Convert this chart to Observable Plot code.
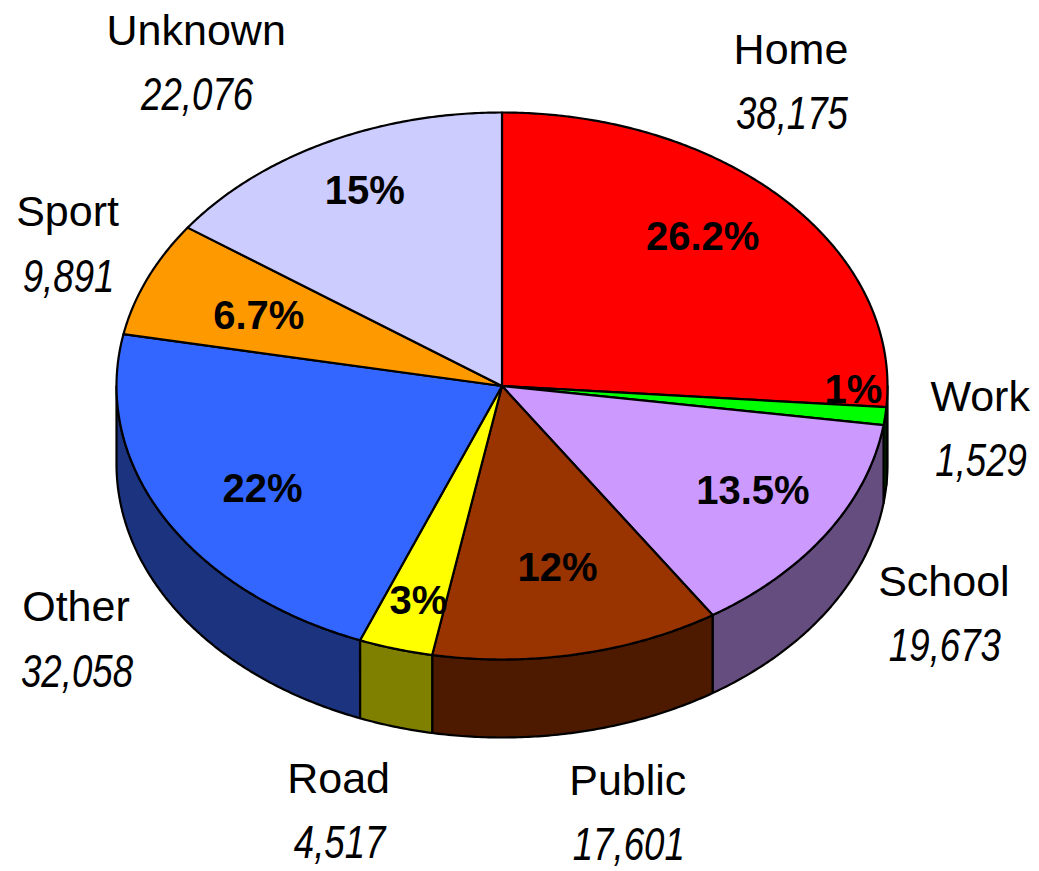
<!DOCTYPE html>
<html><head><meta charset="utf-8">
<script src="https://cdn.jsdelivr.net/npm/d3@7"></script>
<script src="https://cdn.jsdelivr.net/npm/@observablehq/plot@0.6"></script>
<style>body{margin:0;background:#fff} #chart svg{display:block}</style>
</head><body><div id="chart"></div>
<script>
// ---- data ----
const categories = ["Home", "Work", "School", "Public", "Road", "Other", "Sport", "Unknown"];
const counts = [38175, 1529, 19673, 17601, 4517, 32058, 9891, 22076];
const percentLabels = ["26.2%", "1%", "13.5%", "12%", "3%", "22%", "6.7%", "15%"];

// ---- styles ----
const topColors = ["#FF0000", "#00FF00", "#CC99FF", "#993300", "#FFFF00", "#3366FF", "#FF9900", "#CCCCFF"];
const sideColors = ["#800000", "#008000", "#664D80", "#4D1A00", "#808000", "#1C3480", "#804D00", "#666680"];

// ---- layout ----
const W = 1039, H = 871;
const xRange = [116, 887], yRange = [659, 112];       // unit ellipse -> pixels
const pxX = (xRange[1] - xRange[0]) / 2, pxY = (yRange[0] - yRange[1]) / 2;
const depth = 78 / pxY;                                // pie thickness in unit y
const nameOffset = [[6, -150], [95, -97], [117, -29], [50, 49], [-57, 52], [-88, 12], [-80, -66], [-129, -112]];
const valueDrop = 64, valueShift = 1, valueCondense = 0.78;
const pctRadius = [0.72, 0.92, 0.72, 0.72, 0.72, 0.72, 0.72, 0.72];
const pctNudge = [[-3, -15], [-1, -24], [17, -1], [1, -11], [-7, 26], [4, 9], [12, 8], [-10, -20]];

const total = d3.sum(counts);
const fmt = d3.format(",");
const TAU = 2 * Math.PI;
let cum = 0;
const slices = categories.map((c, i) => {
  const a0 = cum / total * TAU; cum += counts[i]; const a1 = cum / total * TAU;
  return {i, name: c, a0, a1, mid: (a0 + a1) / 2};
});

function arc(a, b) {
  const n = Math.max(2, Math.ceil((b - a) / (Math.PI / 360)));
  return d3.range(n + 1).map(k => a + (b - a) * k / n);
}

// top faces
const topRows = [];
slices.forEach(s => {
  const pts = [[0, 0], ...arc(s.a0, s.a1).map(t => [Math.sin(t), Math.cos(t)]), [0, 0]];
  pts.forEach(([x, y]) => topRows.push({id: "t" + s.i, x, y, fill: topColors[s.i]}));
});
// side walls (front half only: angles between 90° and 270°)
const sideRows = [];
slices.forEach(s => {
  const lo = Math.max(s.a0, Math.PI / 2), hi = Math.min(s.a1, 3 * Math.PI / 2);
  if (hi <= lo) return;
  const ts = arc(lo, hi);
  const pts = [
    ...ts.map(t => [Math.sin(t), Math.cos(t)]),
    ...ts.slice().reverse().map(t => [Math.sin(t), Math.cos(t) - depth])
  ];
  pts.push(pts[0]);
  pts.forEach(([x, y]) => sideRows.push({id: "s" + s.i, x, y, fill: sideColors[s.i]}));
});

// labels
const labelRows = slices.map(s => {
  const rx = Math.sin(s.mid), ry = Math.cos(s.mid) - (Math.cos(s.mid) < 0 ? depth : 0);
  const [ox, oy] = nameOffset[s.i];
  const r = pctRadius[s.i], [px, py] = pctNudge[s.i];
  return {
    name: s.name, value: fmt(counts[s.i]), pct: percentLabels[s.i],
    nx: rx + ox / pxX, ny: ry - oy / pxY,
    vx: rx + (ox + valueShift) / pxX, vy: ry - (oy + valueDrop) / pxY,
    px: r * Math.sin(s.mid) + px / pxX, py: r * Math.cos(s.mid) - py / pxY
  };
});

const font = "'Liberation Sans', Arial, Helvetica, sans-serif";
const svg = Plot.plot({
  width: W, height: H, margin: 0,
  x: {domain: [-1, 1], range: xRange, axis: null},
  y: {domain: [-1, 1], range: yRange, axis: null},
  color: {type: "identity"},
  style: {background: "#fff", overflow: "visible"},
  marks: [
    Plot.line(sideRows, {x: "x", y: "y", z: "id", fill: "fill", stroke: "#000", strokeWidth: 2.2, strokeLinejoin: "round", curve: "linear"}),
    Plot.line(topRows, {x: "x", y: "y", z: "id", fill: "fill", stroke: "#000", strokeWidth: 2.2, strokeLinejoin: "round", curve: "linear"}),
    Plot.text(labelRows, {x: "px", y: "py", text: "pct", fontSize: 40, fontWeight: "bold", fontFamily: font, fill: "#000"}),
    Plot.text(labelRows, {x: "nx", y: "ny", text: "name", fontSize: 43, fontFamily: font, fill: "#000"}),
    Plot.text(labelRows, {x: "vx", y: "vy", text: "value", fontSize: 47, fontStyle: "italic", fontFamily: font, fill: "#000"})
  ]
});
document.getElementById("chart").append(svg);
// condense the italic value labels horizontally
const valueSet = new Set(labelRows.map(d => d.value));
svg.querySelectorAll("text").forEach(t => {
  if (valueSet.has(t.textContent)) {
    const L = t.getComputedTextLength();
    t.setAttribute("textLength", (L * valueCondense).toFixed(1));
    t.setAttribute("lengthAdjust", "spacingAndGlyphs");
  }
});
</script>
</body></html>
